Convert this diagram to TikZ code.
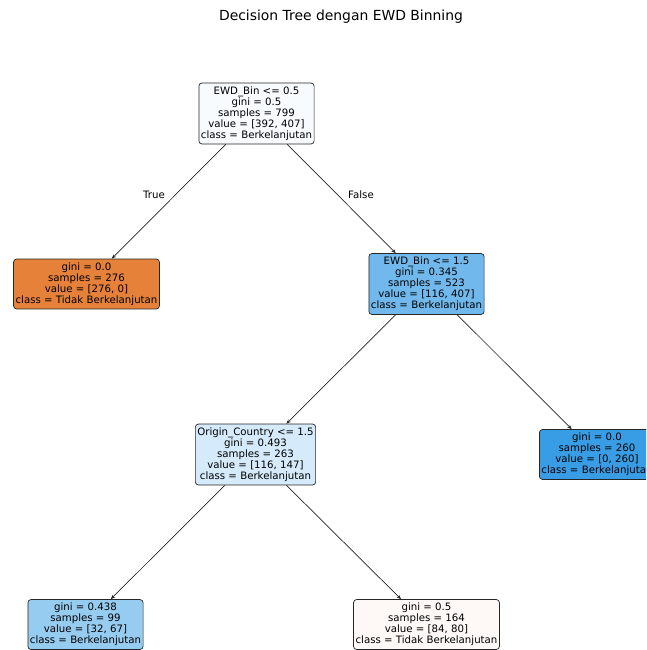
\documentclass[tikz,border=0pt]{standalone}
\usepackage{fontspec}
\setmainfont{DejaVu Sans}
\usetikzlibrary{arrows.meta}
\definecolor{leafOrange}{RGB}{229,129,57}
\definecolor{leafBlue}{RGB}{57,157,229}
\definecolor{rootFill}{RGB}{248,251,254}
\definecolor{binFill}{RGB}{113,185,236}
\definecolor{countryFill}{RGB}{213,234,250}
\definecolor{lowFill}{RGB}{151,204,241}
\definecolor{highFill}{RGB}{254,249,246}
\tikzset{
  treenode/.style={draw=black!85, line width=0.7pt, rounded corners=3pt, align=center,
    inner xsep=2pt, inner ysep=3.5pt, font=\fontsize{10.2}{11}\selectfont},
  treeedge/.style={-{Stealth[length=4.5pt,width=3.5pt]}, line width=0.7pt, black!85},
  edgelabel/.style={font=\fontsize{10.2}{11}\selectfont}
}
\begin{document}
\begin{tikzpicture}[x=1pt,y=1pt]
            \useasboundingbox (0,0) rectangle (646,-650);
            \clip (0,0) rectangle (646,-650);
            \node at (341,-17) {\fontsize{13.9}{16}\selectfont Decision Tree dengan EWD Binning};
            % nodes
            \node[treenode, fill=rootFill] (root) at (256.5,-113.5) {EWD\_Bin <= 0.5\\gini = 0.5\\samples = 799\\value = [392, 407]\\class = Berkelanjutan};
            \node[treenode, fill=leafOrange] (tidak) at (86.5,-284) {gini = 0.0\\samples = 276\\value = [276, 0]\\class = Tidak Berkelanjutan};
            \node[treenode, fill=binFill] (bin) at (426.5,-284) {EWD\_Bin <= 1.5\\gini = 0.345\\samples = 523\\value = [116, 407]\\class = Berkelanjutan};
            \node[treenode, fill=countryFill] (country) at (255.5,-454.5) {Origin\_Country <= 1.5\\gini = 0.493\\samples = 263\\value = [116, 147]\\class = Berkelanjutan};
            \node[treenode, fill=leafBlue] (berk) at (597,-454.5) {gini = 0.0\\samples = 260\\value = [0, 260]\\class = Berkelanjutan};
            \node[treenode, fill=lowFill] (low) at (85.5,-624.5) {gini = 0.438\\samples = 99\\value = [32, 67]\\class = Berkelanjutan};
            \node[treenode, fill=highFill] (high) at (426.5,-624.5) {gini = 0.5\\samples = 164\\value = [84, 80]\\class = Tidak Berkelanjutan};
            % edges
            \draw[treeedge] (root) -- (tidak);
            \draw[treeedge] (root) -- (bin);
            \draw[treeedge] (bin) -- (country);
            \draw[treeedge] (bin) -- (berk);
            \draw[treeedge] (country) -- (low);
            \draw[treeedge] (country) -- (high);
            \node[edgelabel] (truelabel) at (154,-195) {True};
            \node[edgelabel] (falselabel) at (361,-195) {False};
        \end{tikzpicture}
\end{document}
